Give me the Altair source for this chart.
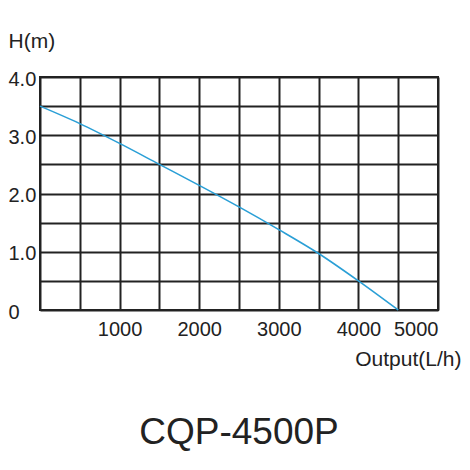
import altair as alt
import pandas as pd

# pump curve
flow = [0, 500, 1000, 1500, 2000, 2500, 3000, 3500, 4000, 4500]
head = [3.5, 3.2, 2.86, 2.5, 2.14, 1.77, 1.38, 0.97, 0.5, 0.0]

x_grid = [0, 500, 1000, 1500, 2000, 2500, 3000, 3500, 4000, 4500, 5000]
y_grid = [0, 0.5, 1.0, 1.5, 2.0, 2.5, 3.0, 3.5, 4.0]

df = pd.DataFrame({"flow": flow, "head": head})

FONT = "Liberation Sans"

line = alt.Chart(df).mark_line(
    color="#2a9fd6", strokeWidth=1.6, interpolate="monotone"
).encode(
    x=alt.X("flow:Q").scale(domain=[0, 5000], nice=False).axis(
        values=x_grid,
        labelExpr="datum.value % 1000 == 0 && datum.value > 0 ? datum.value : ''",
        grid=True, gridColor="#222", gridWidth=2, gridOpacity=1,
        domain=False, ticks=False, tickSize=0,
        labelFont=FONT, labelFontSize=20, labelColor="#222",
        labelPadding=9, labelBaseline="top",
        title="Output(L/h)", titleFont=FONT, titleFontSize=21,
        titleFontWeight="normal", titleColor="#222",
        titleAlign="right", titleBaseline="alphabetic",
        titleX=421, titleY=55,
    ),
    y=alt.Y("head:Q").scale(domain=[0, 4], nice=False).axis(
        values=y_grid,
        labelExpr="datum.value == 0 ? '0' : (datum.value % 1 == 0 ? format(datum.value, '.1f') : '')",
        grid=True, gridColor="#222", gridWidth=2, gridOpacity=1,
        domain=False, ticks=False, tickSize=0,
        labelFont=FONT, labelFontSize=20, labelColor="#222",
        labelAlign="left", labelPadding=32, labelBaseline="middle", labelOffset=2,
        title="H(m)", titleFont=FONT, titleFontSize=21,
        titleFontWeight="normal", titleColor="#222",
        titleAngle=0, titleAlign="left", titleBaseline="alphabetic",
        titleX=-32, titleY=-30,
    ),
)

chart = line.properties(
    width=398,
    height=233,
    autosize="none",
    padding={"left": 32, "top": 69, "right": 24, "bottom": 150},
    title=alt.TitleParams(
        "CQP-4500P", orient="bottom", anchor="middle",
        font=FONT, fontSize=37, fontWeight="normal", color="#222",
        offset=46,
    ),
).configure_view(stroke="#222", strokeWidth=2)

chart.save("out.html", embed_options={"renderer": "svg", "actions": False})
